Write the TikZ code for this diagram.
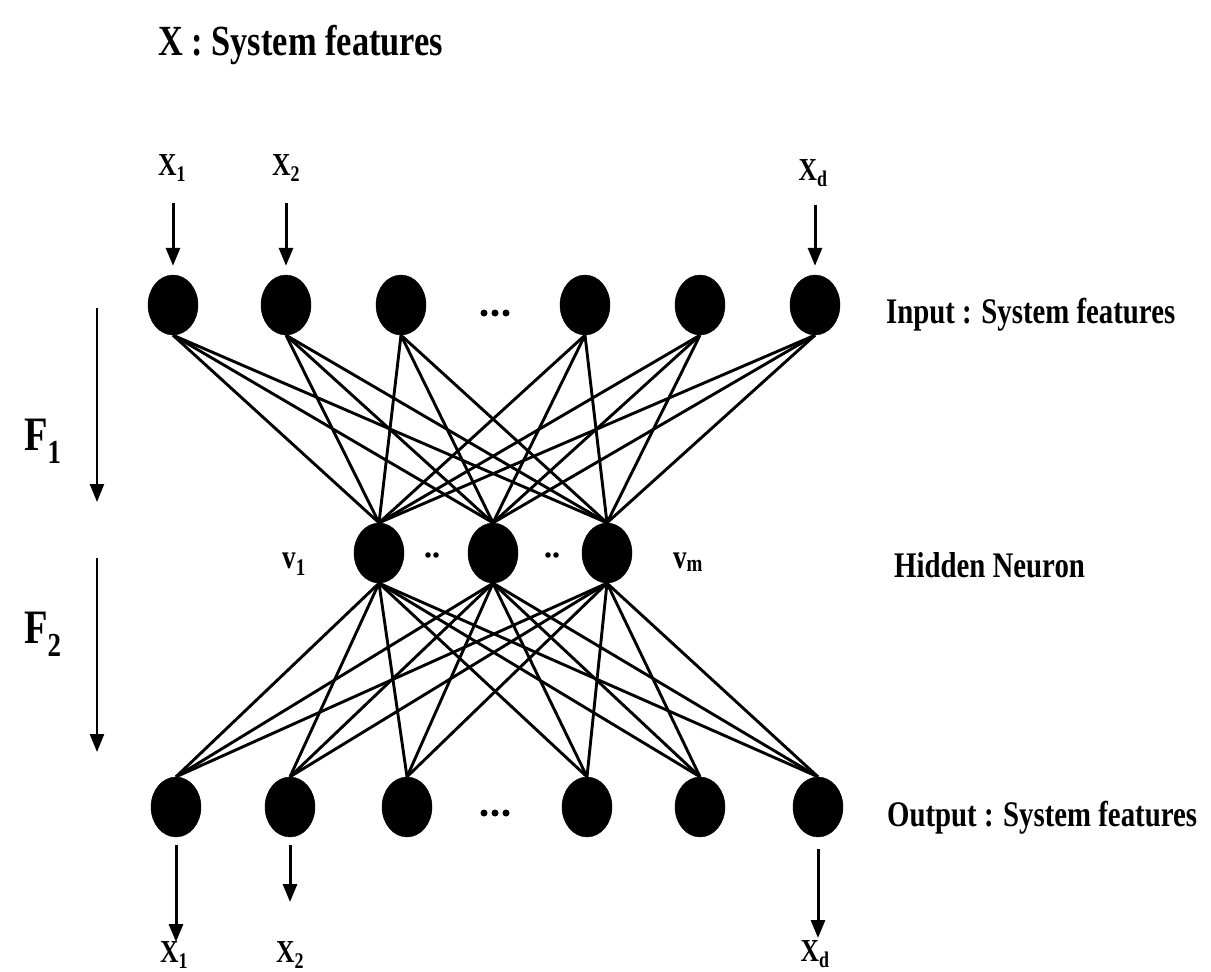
\documentclass[tikz,border=0pt]{standalone}
\usepackage{fontspec}
\usepackage{graphicx}
\newfontfamily\cf{Liberation Serif}[FakeStretch=0.8]
\usetikzlibrary{shapes.geometric,arrows.meta}
\tikzset{
  neuron/.style={ellipse, fill=black, draw=black, minimum width=50pt, minimum height=60pt, inner sep=0pt},
  link/.style={line width=2.9pt},
  io/.style={line width=3pt, -{Triangle[length=18pt,width=14pt]}},
  lbl/.style={font=\cf\bfseries\fontsize{36}{40}\selectfont, inner sep=0pt},
  title/.style={font=\cf\bfseries\fontsize{43}{46}\selectfont, inner sep=0pt},
  xlbl/.style={font=\cf\bfseries\fontsize{32}{36}\selectfont, inner sep=0pt},
  vlbl/.style={font=\cf\bfseries\fontsize{34}{38}\selectfont, inner sep=0pt},
  flbl/.style={font=\cf\bfseries\fontsize{48}{52}\selectfont, inner sep=0pt},
}
\begin{document}
\begin{tikzpicture}[x=1pt,y=-1pt]
\useasboundingbox (0,0) rectangle (1211,972);
% neurons
\foreach \n/\x in {1/173,2/286,3/401,4/585,5/700,6/815}
  \node[neuron] (i\n) at (\x,305) {};
\foreach \n/\x in {1/379,2/493,3/607}
  \node[neuron] (h\n) at (\x,553) {};
\foreach \n/\x in {1/176,2/290,3/407,4/587,5/700,6/818}
  \node[neuron] (o\n) at (\x,807) {};
% connections
\foreach \i in {1,...,6}
  \foreach \j in {1,2,3} {
    \draw[link] (i\i.south) -- (h\j.north);
    \draw[link] (h\j.south) -- (o\i.north);
  }
% dots
\foreach \x in {484,495,506} {
  \fill (\x,313) circle (3.5pt);
  \fill (\x,813) circle (3.5pt);
}
\foreach \x in {428,436,548,556}
  \fill (\x,555) circle (2.8pt);
% title
\node[title, anchor=base west] (ttl) at (158,55) {X : System features};
% input arrows and labels
\node[xlbl, anchor=base] (lx1) at (172,175) {X\textsubscript{1}};
\node[xlbl, anchor=base] (lx2) at (286,175) {X\textsubscript{2}};
\node[xlbl, anchor=base] (lxd) at (813,180) {X\textsubscript{d}};
\coordinate (a1) at (173,203);
\coordinate (a2) at (286,203);
\coordinate (ad) at (815,205);
\draw[io, shorten >=9pt] (a1) -- (i1.north);
\draw[io, shorten >=9pt] (a2) -- (i2.north);
\draw[io, shorten >=9pt] (ad) -- (i6.north);
% output arrows and labels
\coordinate (b1) at (176,942);
\coordinate (b2) at (290,902);
\coordinate (bd) at (818,938);
\draw[io, shorten <=8pt] (o1.south) -- (b1);
\draw[io, shorten <=8pt] (o2.south) -- (b2);
\draw[io, shorten <=12pt] (o6.south) -- (bd);
\node[xlbl, anchor=base] (ly1) at (174,962) {X\textsubscript{1}};
\node[xlbl, anchor=base] (ly2) at (290,962) {X\textsubscript{2}};
\node[xlbl, anchor=base] (lyd) at (815,961) {X\textsubscript{d}};
% hidden labels
\node[vlbl, anchor=base] (lv1) at (294,568) {v\textsubscript{1}};
\node[vlbl, anchor=base] (lvm) at (688,568) {v\textsubscript{m}};
% right labels
\node[lbl, anchor=base west] (lin) at (886,323) {Input : System features};
\node[lbl, anchor=base west] (lhid) at (894,577) {Hidden Neuron};
\node[lbl, anchor=base west] (lout) at (887,826) {Output : System features};
% F arrows
\coordinate (f1s) at (97,308);
\coordinate (f1e) at (97,502);
\coordinate (f2s) at (97,558);
\coordinate (f2e) at (97,752);
\draw[io, line width=2.4pt] (f1s) -- (f1e);
\draw[io, line width=2.4pt] (f2s) -- (f2e);
\node[flbl, anchor=base west] (lf1) at (24,450) {F\textsubscript{1}};
\node[flbl, anchor=base west] (lf2) at (24,643) {F\textsubscript{2}};
\end{tikzpicture}
\end{document}
